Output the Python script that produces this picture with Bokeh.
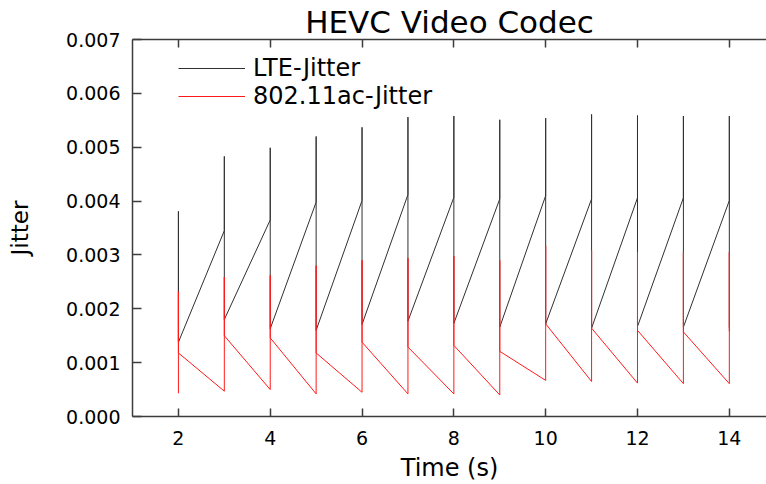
from bokeh.plotting import figure
from bokeh.models import (LinearAxis, FixedTicker, Legend, LegendItem,
                          Range1d, NumeralTickFormatter)
from bokeh.embed import file_html
from bokeh.resources import INLINE

# ---- data ----
times = [2, 3, 4, 5, 6, 7, 8, 9, 10, 11, 12, 13, 14]

# LTE jitter: value reached just before each spike, spike peak, value after drop
lte_arrive = [0.00138, 0.00345, 0.00365, 0.00398, 0.00401, 0.00412, 0.00407,
              0.00404, 0.00410, 0.00404, 0.00406, 0.00406, 0.00401]
lte_peak = [0.00381, 0.00483, 0.00499, 0.00520, 0.00537, 0.00556, 0.00558,
            0.00551, 0.00554, 0.00561, 0.00559, 0.00558, 0.00558]
lte_low = [0.00138, 0.00180, 0.00163, 0.00160, 0.00171, 0.00177, 0.00173,
           0.00166, 0.00172, 0.00164, 0.00167, 0.00166, 0.00165]

# 802.11ac jitter
wifi_arrive = [0.00043, 0.00047, 0.00050, 0.00042, 0.00045, 0.00042, 0.00042,
               0.00040, 0.00067, 0.00065, 0.00062, 0.00061, 0.00061]
wifi_peak = [0.00232, 0.00259, 0.00262, 0.00280, 0.00290, 0.00294, 0.00298,
             0.00290, 0.00317, 0.00308, 0.00305, 0.00305, 0.00305]
wifi_low = [0.00118, 0.00150, 0.00146, 0.00118, 0.00138, 0.00129, 0.00132,
            0.00121, 0.00172, 0.00164, 0.00160, 0.00157, 0.00158]

x_ticks = [2, 4, 6, 8, 10, 12, 14]
y_ticks = [0.0, 0.001, 0.002, 0.003, 0.004, 0.005, 0.006, 0.007]

title_text = "HEVC Video Codec"
x_label = "Time (s)"
y_label = "Jitter"
series_names = ["LTE-Jitter", "802.11ac-Jitter"]


def sawtooth(arrive, peak, low):
    xs, ys = [], []
    for t, a, pk, lo in zip(times, arrive, peak, low):
        xs += [t, t, t]
        ys += [a, pk, lo]
    return xs, ys


FONT = "DejaVu Sans"
AXIS_COLOR = "#3c3c3c"

p = figure(width=766, height=484, output_backend="svg", toolbar_location=None,
           x_range=Range1d(1, 14.81), y_range=Range1d(0, 0.007),
           x_axis_location=None, y_axis_location=None,
           min_border_left=132, min_border_right=0, min_border_top=39,
           min_border_bottom=68)
p.outline_line_color = None
p.xgrid.visible = False
p.ygrid.visible = False
p.background_fill_color = "white"
p.border_fill_color = "white"

p.title.text = title_text
p.title.align = "center"
p.title.text_font = FONT
p.title.text_font_style = "normal"
p.title.text_font_size = "31px"
p.title.text_color = "black"
p.title.standoff = 0

lx, ly = sawtooth(lte_arrive, lte_peak, lte_low)
wx, wy = sawtooth(wifi_arrive, wifi_peak, wifi_low)
r_lte = p.line(lx, ly, line_color="#303030", line_width=1)
r_wifi = p.line(wx, wy, line_color="#ff1a1a", line_width=1)


def style_axis(ax):
    ax.axis_line_color = AXIS_COLOR
    ax.axis_line_width = 1.5
    ax.major_tick_line_color = AXIS_COLOR
    ax.major_tick_line_width = 1.5
    ax.major_tick_out = 0
    ax.minor_tick_line_color = None
    ax.major_label_text_font = FONT
    ax.major_label_text_color = "black"
    ax.major_label_text_font_size = "19px"


bottom = LinearAxis(ticker=FixedTicker(ticks=x_ticks))
style_axis(bottom)
bottom.major_tick_in = 8
bottom.major_label_standoff = 14
bottom.axis_label = x_label
bottom.axis_label_text_font = FONT
bottom.axis_label_text_font_style = "normal"
bottom.axis_label_text_font_size = "24px"
bottom.axis_label_text_color = "black"
bottom.axis_label_standoff = 6
p.add_layout(bottom, "below")

# top frame line: ticks only (minor ticks carry no labels)
top = LinearAxis(ticker=FixedTicker(ticks=[], minor_ticks=x_ticks))
top.axis_line_color = AXIS_COLOR
top.axis_line_width = 1.5
top.major_tick_line_color = None
top.minor_tick_line_color = AXIS_COLOR
top.minor_tick_line_width = 1.5
top.minor_tick_in = 8
top.minor_tick_out = 0
top.major_label_standoff = 0
p.add_layout(top, "above")

left = LinearAxis(ticker=FixedTicker(ticks=y_ticks),
                  formatter=NumeralTickFormatter(format="0.000"))
style_axis(left)
left.major_tick_in = 9
left.major_label_standoff = 12
left.axis_label = y_label
left.axis_label_text_font = FONT
left.axis_label_text_font_style = "normal"
left.axis_label_text_font_size = "23px"
left.axis_label_text_color = "black"
left.axis_label_standoff = 30
p.add_layout(left, "left")

legend = Legend(items=[LegendItem(label=series_names[0], renderers=[r_lte]),
                       LegendItem(label=series_names[1], renderers=[r_wifi])],
                location=(46, 306), padding=0, margin=0, spacing=0,
                glyph_width=67, glyph_height=28, label_height=28,
                label_standoff=8, label_text_font=FONT,
                label_text_font_size="24px", label_text_color="black",
                border_line_color=None, background_fill_alpha=0)
p.add_layout(legend)

open("out.html", "w").write(file_html(p, INLINE))
